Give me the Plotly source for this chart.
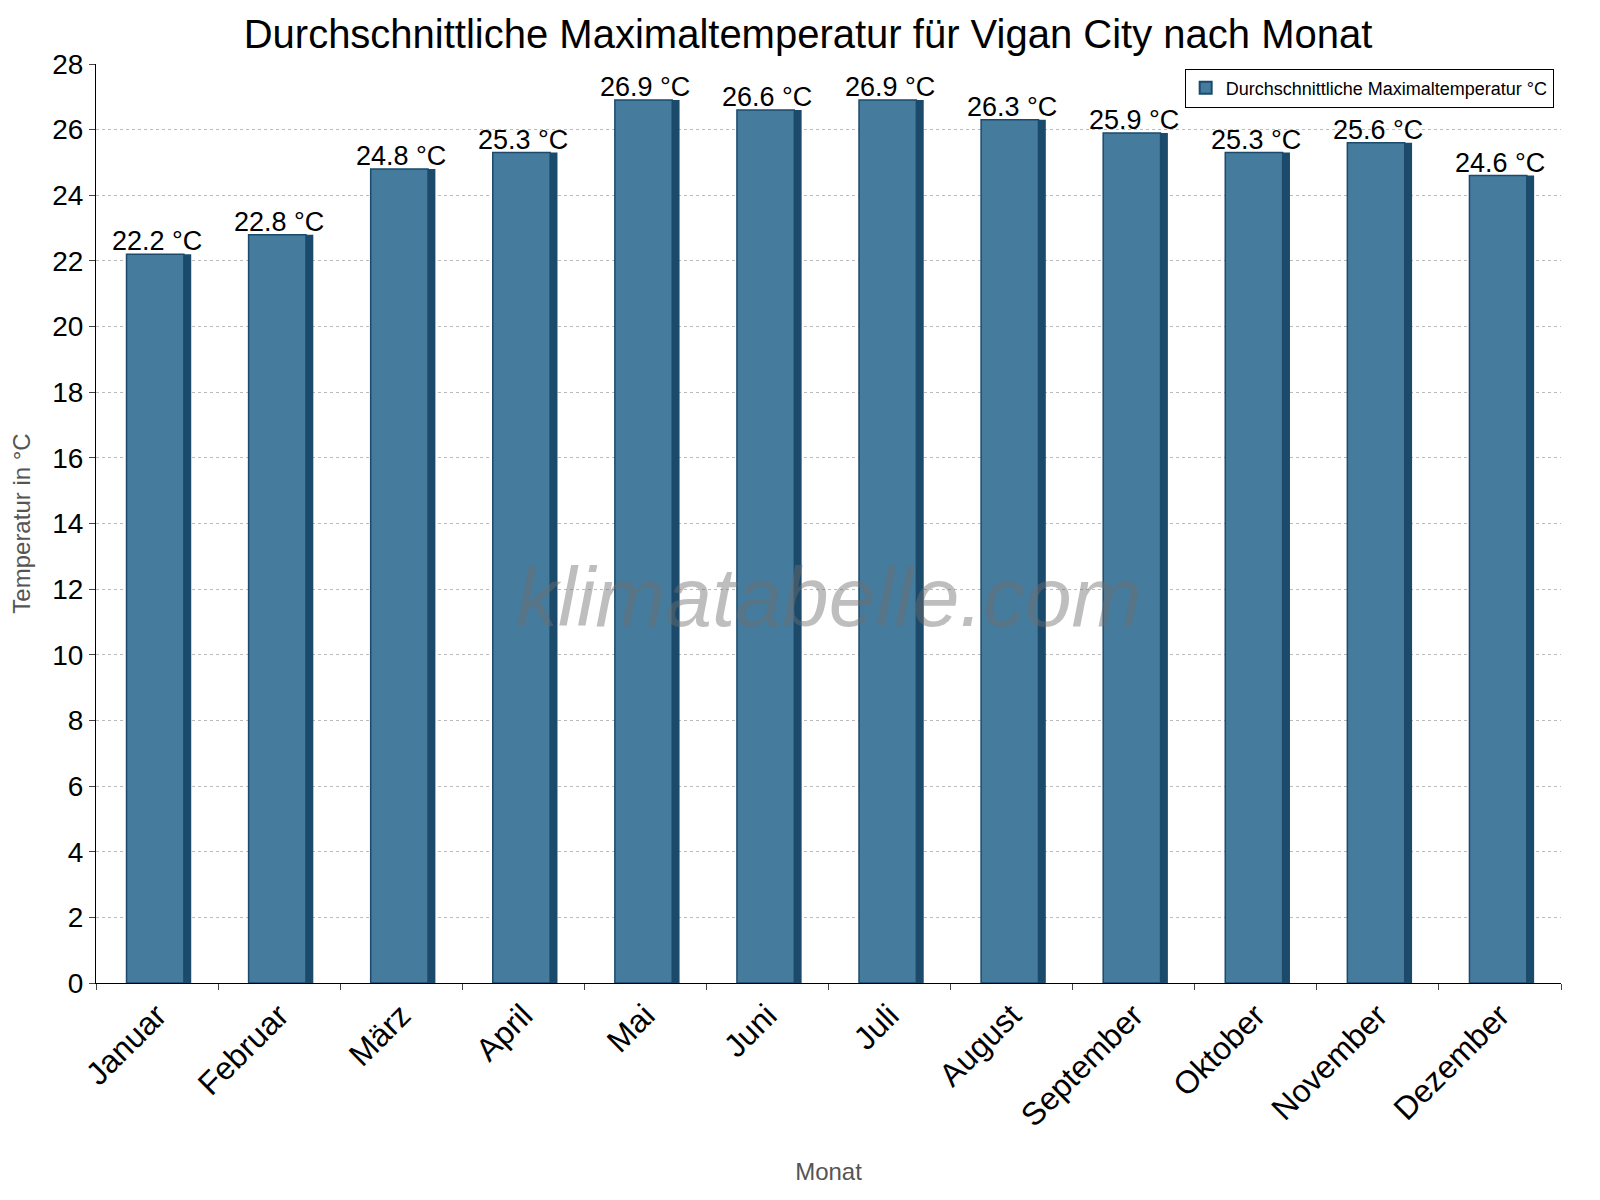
import plotly.graph_objects as go

months = ["Januar", "Februar", "März", "April", "Mai", "Juni", "Juli",
          "August", "September", "Oktober", "November", "Dezember"]
temps = [22.2, 22.8, 24.8, 25.3, 26.9, 26.6, 26.9, 26.3, 25.9, 25.3, 25.6, 24.6]
labels = [f"{t} °C" for t in temps]

fig = go.Figure()
# dark back bar gives the side shading
fig.add_trace(go.Bar(x=months, y=temps, width=0.5, offset=-0.22,
                     marker=dict(color="#1b4a6b", line=dict(width=0)),
                     showlegend=False, hoverinfo="skip"))
fig.add_trace(go.Bar(x=months, y=temps, width=0.47, offset=-0.25,
                     name="Durchschnittliche Maximaltemperatur °C",
                     marker=dict(color="#457b9d", line=dict(color="#1b4a6b", width=1.5))))

for m, t, lab in zip(months, temps, labels):
    fig.add_annotation(x=m, y=t, text=lab, showarrow=False, yanchor="bottom",
                       yshift=-4, font=dict(size=27, color="black"))

fig.add_annotation(text="<i>klimatabelle.com</i>", x=0.5, y=0.42, xref="paper", yref="paper",
                   showarrow=False, font=dict(size=84, color="rgba(110,110,110,0.45)",
                                              family="Liberation Sans Narrow, Liberation Sans"))

fig.update_layout(
    width=1600, height=1200, barmode="overlay",
    paper_bgcolor="white", plot_bgcolor="white",
    font=dict(family="Liberation Sans, Arial", color="black"),
    title=dict(text="Durchschnittliche Maximaltemperatur für Vigan City nach Monat",
               x=0.5, xanchor="center", y=0.99, yanchor="top", font=dict(size=40)),
    margin=dict(l=85, r=47, t=56, b=225),
    legend=dict(x=0.995, y=0.995, xanchor="right", yanchor="top",
                bordercolor="black", borderwidth=1, font=dict(size=18),
                itemsizing="constant"),
    xaxis=dict(tickangle=-45, tickfont=dict(size=32), tickson="boundaries",
               ticks="outside", ticklen=6, showline=True, linecolor="black",
               title=dict(text="Monat", font=dict(size=24, color="#555"), standoff=30)),
    yaxis=dict(range=[0, 28], dtick=2, tickfont=dict(size=28), showline=True,
               linecolor="black", ticks="outside", ticklen=6,
               showgrid=True, gridcolor="#bbb", griddash="dot",
               title=dict(text="Temperatur in °C", font=dict(size=24, color="#555"))),
)
fig.write_html("out.html")
